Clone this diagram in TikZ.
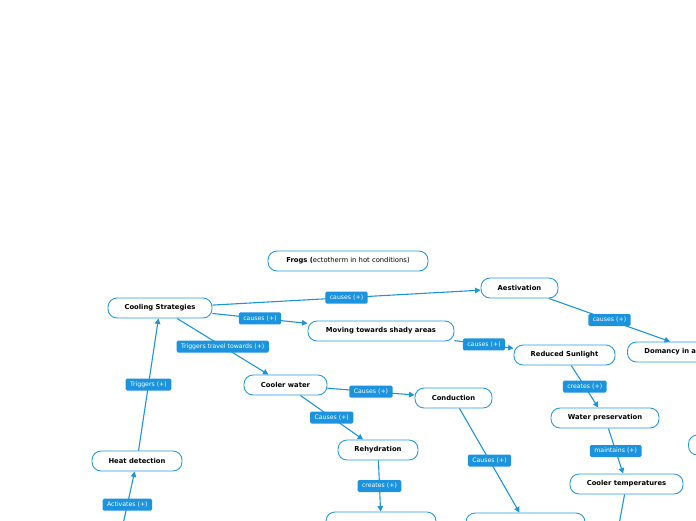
\documentclass[tikz,border=0pt]{standalone}
\usepackage{fontspec}
\setmainfont{DejaVu Sans}
\usetikzlibrary{arrows.meta}
\definecolor{edgeblue}{RGB}{30,148,222}
\definecolor{boxblue}{RGB}{40,156,224}
\definecolor{lblblue}{RGB}{27,147,222}
\tikzset{
  topic/.style={draw=boxblue, line width=0.9pt, fill=white, rounded corners=9pt,
    minimum height=20pt, inner xsep=4pt, inner ysep=0pt,
    font=\fontsize{6.8}{8}\selectfont\bfseries, text=black},
  rel/.style={draw=edgeblue, line width=1.1pt, -{Triangle[length=5.5pt,width=5.5pt]}},
  plain/.style={draw=edgeblue, line width=1.1pt},
  lbl/.style={fill=lblblue, rounded corners=1.5pt, text=white, minimum height=12pt,
    inner xsep=4.5pt, inner ysep=0pt, font=\fontsize{6.2}{7}\selectfont}
}
\begin{document}
\begin{tikzpicture}[x=1pt,y=-1pt]
\useasboundingbox (0,0) rectangle (696,520);
\clip (0,0) rectangle (696,520);
% nodes
\node[topic, minimum width=160pt, font=\fontsize{6.8}{8}\selectfont] (frogs) at (348,261) {\textbf{Frogs (}ectotherm in hot conditions)};
\node[topic, minimum width=104pt] (cool) at (160,308) {Cooling Strategies};
\node[topic, minimum width=77pt] (aest) at (519.5,288) {Aestivation};
\node[topic, minimum width=146pt] (shade) at (381,331) {Moving towards shady areas};
\node[topic, minimum width=101pt] (sun) at (564.5,355) {Reduced Sunlight};
\node[topic, anchor=west, text width=110pt, align=left, inner xsep=17pt] (dom) at (627,352) {Domancy in a};
\node[topic, minimum width=83pt] (water) at (285.5,385) {Cooler water};
\node[topic, minimum width=77pt] (cond) at (453.5,398) {Conduction};
\node[topic, minimum width=80pt] (rehyd) at (378,450) {Rehydration};
\node[topic, minimum width=108pt] (pres) at (605,418) {Water preservation};
\node[topic, minimum width=113pt] (ctemp) at (626.5,484) {Cooler temperatures};
\node[topic, minimum width=90pt] (heat) at (137,461) {Heat detection};
\node[topic, minimum width=110pt] (bot1) at (381,522) {};
\node[topic, minimum width=119pt] (bot2) at (525.5,523) {};
\node[topic, anchor=west, minimum width=60pt] (right1) at (688,445) {};
\coordinate (src) at (120,538);
\coordinate (down) at (618,530);
% connectors
\draw[rel] (cool) -- node[lbl] {causes (+)} (aest);
\draw[rel] (cool) -- node[lbl] {causes (+)} (shade);
\draw[rel] (cool) -- node[lbl] {Triggers travel towards (+)} (water);
\draw[rel] (heat) -- node[lbl] {Triggers (+)} (cool);
\draw[rel] (src) -- node[lbl] {Activates (+)} (heat);
\draw[rel] (aest) -- node[lbl] {causes (+)} (dom);
\draw[rel] (shade) -- node[lbl] {causes (+)} (sun);
\draw[rel] (sun) -- node[lbl] {creates (+)} (pres);
\draw[rel] (pres) -- node[lbl] {maintains (+)} (ctemp);
\draw[plain] (ctemp) -- (down);
\draw[rel] (water) -- node[lbl] {Causes (+)} (cond);
\draw[rel] (water) -- node[lbl] {Causes (+)} (rehyd);
\draw[rel] (rehyd) -- node[lbl] {creates (+)} (bot1);
\draw[rel] (cond) -- node[lbl] {Causes (+)} (bot2);
\end{tikzpicture}
\end{document}
